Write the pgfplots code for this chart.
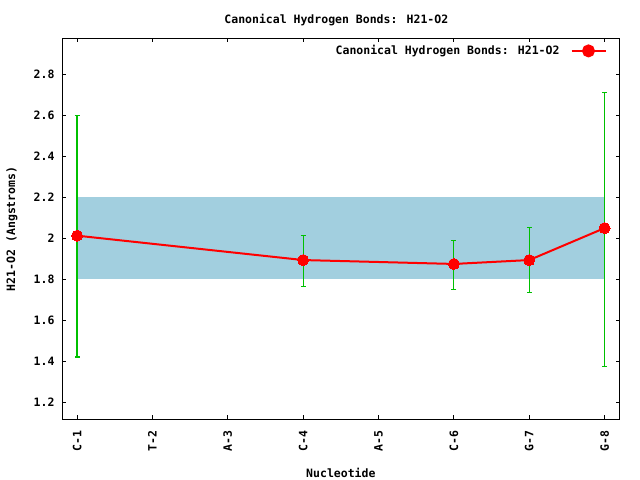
\documentclass[border=0pt]{standalone}
\usepackage{pgfplots}
\pgfplotsset{compat=1.18}
\usepackage{pgfplotstable}
\usepackage{fontspec}
\setmainfont{DejaVu Sans Mono}
\definecolor{gpred}{RGB}{255,0,0}
\definecolor{gpgreen}{RGB}{0,192,0}
\definecolor{band}{RGB}{162,207,223}
\pgfplotstableread{
x y ep em
1 2.013 0.587 0.592
4 1.894 0.119 0.129
6 1.875 0.114 0.125
7 1.894 0.158 0.160
8 2.050 0.662 0.674
}\hbonds
\begin{document}
\begin{tikzpicture}
\fill[white] (0,0) rectangle (640bp,480bp);
\useasboundingbox (0,0) rectangle (640bp,480bp);
\begin{axis}[
  at={(62bp,60.7bp)}, anchor=south west,
  scale only axis, width=557.7bp, height=381bp,
  xmin=0.8, xmax=8.2, ymin=1.117, ymax=2.976,
  xtick={1,2,3,4,5,6,7,8},
  xticklabels={C-1,T-2,A-3,C-4,A-5,C-6,G-7,G-8},
  ytick={1.2,1.4,1.6,1.8,2,2.2,2.4,2.6,2.8},
  tick align=inside, major tick length=4bp,
  tick style={black, line width=0.8bp},
  axis line style={black, line width=0.9bp},
  font=\fontsize{11.5bp}{13bp}\selectfont\bfseries,
  /pgf/number format/assume math mode=true,
  xticklabel style={rotate=90, anchor=east, xshift=-8bp},
  yticklabel style={xshift=-4bp},
  title={Canonical Hydrogen Bonds: H21-O2},
  title style={at={(axis description cs:0.5,1)}, anchor=center, yshift=12bp, xshift=-4.5bp},
  xlabel={Nucleotide},
  xlabel style={at={(axis description cs:0.5,0)}, anchor=center, yshift=-54bp},
  ylabel={H21-O2 (Angstroms)},
  ylabel style={at={(axis description cs:0,0.5)}, anchor=center, yshift=50bp},
  legend plot pos=right,
  legend style={at={(axis description cs:1,1)}, anchor=north east, draw=none, fill=none,
    xshift=-10bp, yshift=-3bp, font=\fontsize{11.5bp}{13bp}\selectfont\bfseries,
    /tikz/column sep=9bp},
  legend cell align=right,
]
\addplot[fill=band, draw=none, forget plot] coordinates {(1,1.8) (8,1.8) (8,2.2) (1,2.2)} -- cycle;
\addplot[draw=none, mark=none, forget plot, gpgreen,
  error bars/.cd, y dir=both, y explicit,
  error bar style={gpgreen, line width=1.2bp},
  error mark options={gpgreen, rotate=90, mark size=2.5bp, line width=1.2bp}]
  table[x=x, y=y, y error plus=ep, y error minus=em] {\hbonds};
\addplot[gpred, line width=2bp, mark=*, mark size=5.5bp, mark options={fill=gpred, draw=gpred, line width=0bp},
  legend image code/.code={
    \draw[gpred, line width=2bp] (0bp,0bp) -- (34bp,0bp);
    \fill[gpred] (17bp,0bp) circle (5.5bp);}]
  table[x=x, y=y] {\hbonds};
\addlegendentry{Canonical Hydrogen Bonds: H21-O2}
\end{axis}
\end{tikzpicture}
\end{document}
